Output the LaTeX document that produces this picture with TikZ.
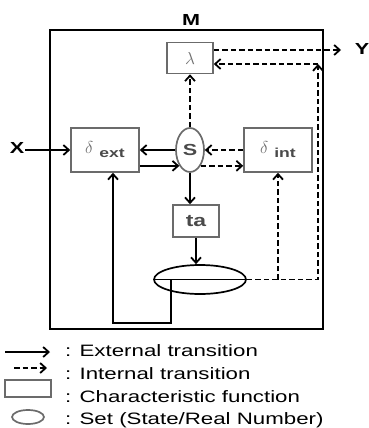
\documentclass[tikz,border=0pt]{standalone}
\usepackage{fontspec}
\setmainfont{Liberation Sans}[FakeStretch=1.35]
\definecolor{boxGray}{HTML}{6B6B6B}
\definecolor{textGray}{HTML}{4A4A4A}
\definecolor{symbolGray}{HTML}{6E6E6E}
\usetikzlibrary{arrows.meta, shapes.geometric, positioning}
\newcommand{\fnDelta}[1]{{\color{symbolGray}\fontsize{19}{19}\selectfont$\delta$}\hspace{6pt}\raisebox{-4pt}{\color{textGray}\fontsize{13}{13}\selectfont\bfseries #1}}

\begin{document}
\begin{tikzpicture}[x=1pt, y=-1pt,
    fnBox/.style={draw=boxGray, line width=1.6pt, inner sep=0pt},
    setEllipse/.style={ellipse, draw, line width=1.7pt, inner sep=0pt},
    extArrow/.style={-{Straight Barb[length=5.5pt, width=10pt, line width=1.8pt]}, line width=1.8pt},
    intArrow/.style={extArrow, dash pattern=on 5.5pt off 3pt},
    tagLabel/.style={inner sep=1pt, font=\fontsize{16}{16}\selectfont\bfseries},
    legendText/.style={anchor=base west, inner sep=0pt, font=\fontsize{16.5}{18}\selectfont}]

  \useasboundingbox (0,0) rectangle (369,428);

  % model frame
  \node[draw, line width=2.2pt, minimum width=273pt, minimum height=299pt, inner sep=0pt] (modelBox) at (186.5,179.5) {};
  \node[tagLabel] (mLabel) at (191,19.5) {M};
  \node[tagLabel] (xLabel) at (17,147.5) {X};
  \node[tagLabel] (yLabel) at (362,49) {Y};

  % functions and sets
  \node[fnBox, minimum width=46pt, minimum height=31pt, text=symbolGray, font=\fontsize{19}{19}\selectfont] (lambdaBox) at (190,58) {$\lambda$};
  \node[fnBox, minimum width=68pt, minimum height=44pt] (deltaExt) at (105,150) {\fnDelta{ext}};
  \node[fnBox, minimum width=68pt, minimum height=44pt] (deltaInt) at (278,150) {\fnDelta{int}};
  \node[setEllipse, tagLabel, draw=boxGray, text=textGray, minimum width=28pt, minimum height=44pt] (stateSet) at (190,150) {S};
  \node[fnBox, minimum width=46pt, minimum height=32pt, text=textGray, font=\fontsize{17}{17}\selectfont\bfseries] (taBox) at (196,221) {ta};
  \node[setEllipse, minimum width=92pt, minimum height=29pt] (sigmaSet) at (200,279.5) {};

  \coordinate (yOut) at (341,50);
  \coordinate (retCorner) at (318,64);
  \coordinate (fbStart) at (171,279.5);
  \coordinate (fbLow) at (113,323);

  % transitions
  \draw[extArrow] (xLabel.east |- deltaExt.west) -- (deltaExt.west);
  \draw[intArrow] ([yshift=8pt]lambdaBox.east) -- (yOut);
  \draw[intArrow] (sigmaSet.east) -| (retCorner);
  \draw[intArrow] (retCorner) -- (retCorner -| lambdaBox.east);
  \draw[intArrow] (sigmaSet.east -| deltaInt.south) -- (deltaInt.south);
  \draw[line width=1.8pt] (sigmaSet.west) -- (sigmaSet.east);
  \draw[extArrow] (fbStart) |- (fbLow) -- (fbLow |- deltaExt.south);
  \draw[extArrow] (stateSet.west) -- (deltaExt.east);
  \draw[extArrow] (deltaExt.east |- stateSet.236) -- (stateSet.236);
  \draw[intArrow] (deltaInt.west) -- (stateSet.east);
  \draw[intArrow] (stateSet.304) -- (deltaInt.west |- stateSet.304);
  \draw[intArrow] (stateSet.north) -- (lambdaBox.south);
  \draw[extArrow] (stateSet.south) -- (stateSet.south |- taBox.north);
  \draw[extArrow] (taBox.south) -- (taBox.south |- sigmaSet.north);

  % legend
  \coordinate (legExtA) at (5,352);
  \coordinate (legExtB) at (50,352);
  \coordinate (legIntA) at (14,368);
  \coordinate (legIntB) at (47,368);
  \draw[extArrow] (legExtA) -- (legExtB);
  \draw[intArrow] (legIntA) -- (legIntB);
  \node[fnBox, minimum width=46pt, minimum height=17pt] (legBox) at (28,388.5) {};
  \node[setEllipse, draw=boxGray, minimum width=32pt, minimum height=14pt] (legSet) at (28,417) {};
  \node[legendText] (legExtText) at (65,356) {: External transition};
  \node[legendText] (legIntText) at (65,379) {: Internal transition};
  \node[legendText] (legBoxText) at (65,402) {: Characteristic function};
  \node[legendText] (legSetText) at (65,424) {: Set (State/Real Number)};
\end{tikzpicture}
\end{document}
